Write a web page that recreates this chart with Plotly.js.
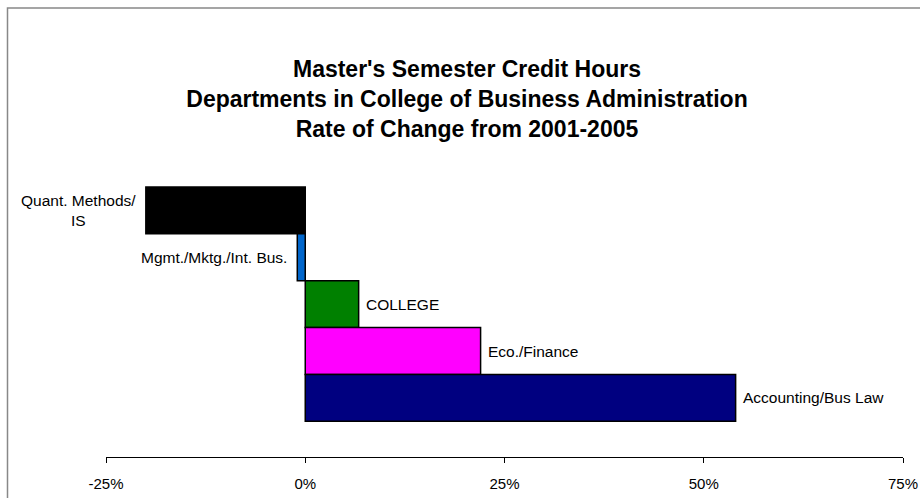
<!DOCTYPE html>
<html>
<head>
<meta charset="utf-8">
<script src="https://cdn.plot.ly/plotly-3.0.1.min.js"></script>
<style>
  html, body { margin: 0; padding: 0; background: #fff; overflow: hidden; }
  #chart { width: 920px; height: 498px; }
</style>
</head>
<body>
<div id="chart"></div>
<script>
// ---- data ----
const categories = ["Quant. Methods/<br>IS", "Mgmt./Mktg./Int. Bus.", "COLLEGE", "Eco./Finance", "Accounting/Bus Law"];
const rateOfChange = [-0.20, -0.01, 0.067, 0.22, 0.54];
const tickValues = [-0.25, 0, 0.25, 0.5, 0.75];
const tickLabels = ["-25%", "0%", "25%", "50%", "75%"];
const titleLines = ["Master's Semester Credit Hours", "Departments in College of Business Administration", "Rate of Change from 2001-2005"];

// ---- styles ----
const barColors = ["#000000", "#0066CC", "#008000", "#FF00FF", "#000080"];
const FONT = "Arial, 'Liberation Sans', sans-serif";

const trace = {
  type: "bar",
  orientation: "h",
  x: rateOfChange,
  y: categories,
  width: 1,
  marker: { color: barColors, line: { color: "#000000", width: 1.5 } },
  hoverinfo: "skip"
};

const annotations = categories.map((c, i) => ({
  x: rateOfChange[i],
  y: c,
  xref: "x",
  yref: "y",
  text: c,
  showarrow: false,
  xanchor: rateOfChange[i] < 0 ? "right" : "left",
  yanchor: "middle",
  align: "center",
  xshift: rateOfChange[i] < 0 ? -8 : 5,
  font: { family: FONT, size: 15.5, color: "#000000" }
}));

const layout = {
  width: 920,
  height: 498,
  margin: { l: 106, r: 17, t: 140, b: 41, pad: 0 },
  paper_bgcolor: "#ffffff",
  plot_bgcolor: "rgba(0,0,0,0)",
  showlegend: false,
  bargap: 0,
  title: {
    text: titleLines.join("<br>"),
    font: { family: FONT, size: 23, color: "#000000", weight: "bold" },
    xref: "container",
    x: 467 / 920,
    xanchor: "center",
    yref: "container",
    y: 1 - 77 / 498,
    yanchor: "middle"
  },
  xaxis: {
    range: [-0.25, 0.75],
    tickmode: "array",
    tickvals: tickValues,
    ticktext: tickLabels,
    showgrid: false,
    zeroline: false,
    showline: true,
    linecolor: "#000000",
    linewidth: 1,
    ticks: "outside",
    ticklen: 5,
    tickwidth: 1,
    tickcolor: "#000000",
    ticklabelstandoff: 8,
    tickfont: { family: FONT, size: 15, color: "#000000" },
    fixedrange: true
  },
  yaxis: {
    type: "category",
    categoryorder: "array",
    categoryarray: categories,
    range: [5.26, -1.5],
    showticklabels: false,
    showgrid: false,
    zeroline: false,
    showline: false,
    ticks: "",
    fixedrange: true
  },
  annotations: annotations,
  shapes: [{
    type: "rect",
    xref: "paper",
    yref: "paper",
    x0: (7.5 - 106) / 797,
    x1: 1.2,
    y0: -0.3,
    y1: (457 - 8) / 317,
    line: { color: "#888888", width: 1.5 },
    fillcolor: "rgba(0,0,0,0)",
    layer: "below"
  }]
};

Plotly.newPlot("chart", [trace], layout, { displayModeBar: false, staticPlot: true });
</script>
</body>
</html>
